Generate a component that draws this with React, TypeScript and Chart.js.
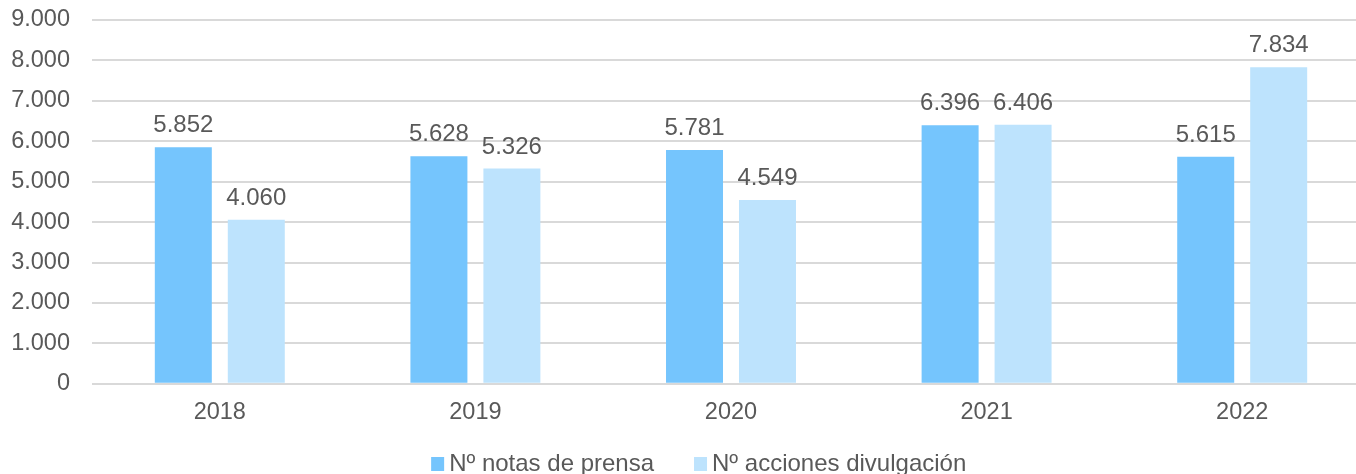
import React, { useEffect, useRef } from "react";
import { Chart, registerables } from "chart.js";

Chart.register(...registerables);

const categories = ["2018", "2019", "2020", "2021", "2022"];
const notasPrensa = [5852, 5628, 5781, 6396, 5615];
const accionesDivulgacion = [4060, 5326, 4549, 6406, 7834];
const seriesNames = ["Nº notas de prensa", "Nº acciones divulgación"];
const yTicks = [0, 1000, 2000, 3000, 4000, 5000, 6000, 7000, 8000, 9000];

const fmt = (v: number) => {
  const s = Math.round(v).toString();
  return s.replace(/\B(?=(\d{3})+(?!\d))/g, ".");
};

const FONT = "'Liberation Sans', Arial, sans-serif";
const TEXT = "#595959";
const CANVAS_W = 1370;
const CANVAS_H = 474;

const dataLabels = {
  id: "dataLabels",
  afterDatasetsDraw(chart: any) {
    const ctx = chart.ctx;
    ctx.save();
    ctx.font = `24px ${FONT}`;
    ctx.fillStyle = TEXT;
    ctx.textAlign = "center";
    ctx.textBaseline = "alphabetic";
    chart.data.datasets.forEach((ds: any, i: number) => {
      const meta = chart.getDatasetMeta(i);
      meta.data.forEach((bar: any, j: number) => {
        ctx.fillText(fmt(ds.data[j]), bar.x, bar.y - 15);
      });
    });
    ctx.restore();
  },
};

const customLegend = {
  id: "customLegend",
  afterDraw(chart: any) {
    const ctx = chart.ctx;
    ctx.save();
    ctx.font = `24px ${FONT}`;
    ctx.textBaseline = "alphabetic";
    ctx.textAlign = "left";
    const boxW = 13;
    const boxH = 14;
    const boxGap = 5;
    const itemGap = 40;
    const items = chart.data.datasets.map((ds: any) => ({
      text: ds.label,
      color: ds.backgroundColor,
      w: ctx.measureText(ds.label).width,
    }));
    const total =
      items.reduce((s: number, it: any) => s + boxW + boxGap + it.w, 0) +
      itemGap * (items.length - 1);
    let x = chart.width * 0.51 - total / 2;
    const baseline = chart.height - 3;
    items.forEach((it: any) => {
      ctx.fillStyle = it.color;
      ctx.fillRect(x, baseline - boxH, boxW, boxH);
      ctx.fillStyle = TEXT;
      ctx.fillText(it.text, x + boxW + boxGap, baseline);
      x += boxW + boxGap + it.w + itemGap;
    });
    ctx.restore();
  },
};

export default function App() {
  const ref = useRef<HTMLCanvasElement>(null);
  useEffect(() => {
    document.body.style.margin = "0";
    const chart = new Chart(ref.current!, {
      type: "bar",
      data: {
        labels: categories,
        datasets: [
          {
            label: seriesNames[0],
            data: notasPrensa,
            backgroundColor: "#75C5FD",
            categoryPercentage: 0.571,
            barPercentage: 0.781,
          },
          {
            label: seriesNames[1],
            data: accionesDivulgacion,
            backgroundColor: "#BDE3FD",
            categoryPercentage: 0.571,
            barPercentage: 0.781,
          },
        ],
      },
      options: {
        animation: false,
        responsive: false,
        maintainAspectRatio: false,
        layout: { padding: { top: 20, right: 0, left: 0, bottom: 40 } },
        plugins: {
          tooltip: { enabled: false },
          legend: { display: false },
        },
        scales: {
          x: {
            grid: { display: false },
            border: { display: false },
            ticks: { font: { family: FONT, size: 23.5 }, color: TEXT, padding: 7 },
          },
          y: {
            min: 0,
            max: 9000,
            afterBuildTicks: (axis: any) => {
              axis.ticks = yTicks.map((v) => ({ value: v }));
            },
            afterFit: (axis: any) => {
              axis.width = 92;
            },
            grid: {
              color: "#D9D9D9",
              lineWidth: 2,
              drawTicks: true,
              tickLength: 22,
              tickColor: "rgba(0,0,0,0)",
            },
            border: { display: false },
            ticks: {
              font: { family: FONT, size: 23.5 },
              color: TEXT,
              padding: 0,
              callback: (v: any) => fmt(Number(v)),
            },
          },
        },
      },
      plugins: [dataLabels, customLegend],
    });
    return () => chart.destroy();
  }, []);
  return (
    <div style={{ width: 1356, height: CANVAS_H, overflow: "hidden" }}>
      <canvas ref={ref} width={CANVAS_W} height={CANVAS_H} style={{ display: "block" }} />
    </div>
  );
}
